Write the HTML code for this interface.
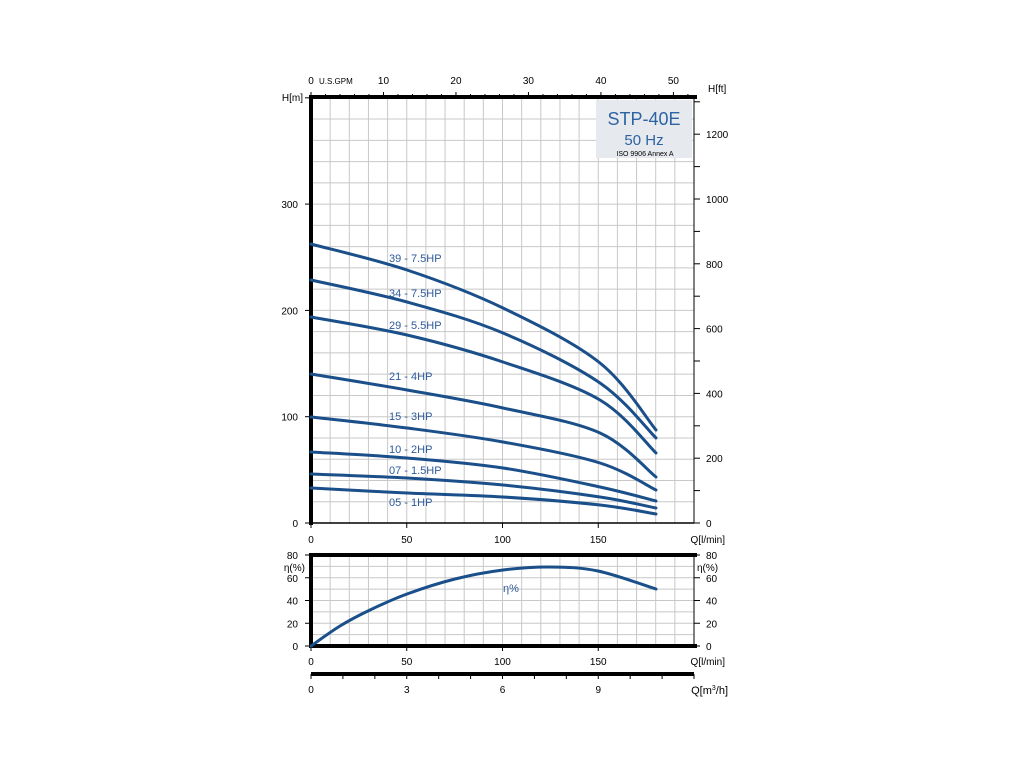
<!DOCTYPE html>
<html><head><meta charset="utf-8"><style>
html,body{margin:0;padding:0;background:#fff;}
svg{display:block;font-family:"Liberation Sans",sans-serif;}
</style></head><body>
<svg id="s" width="1024" height="768" viewBox="0 0 1024 768" xmlns="http://www.w3.org/2000/svg">
<g id="grid" stroke="#c8c8c8" stroke-width="1"></g>
<g id="ax" stroke="#000" fill="none"></g>
<g id="curves" fill="none" stroke="#1a4f8a" stroke-width="3" stroke-linecap="round"></g>
<g id="txt" font-size="10" fill="#000"></g>
<rect x="596" y="100" width="96" height="58" fill="#e6eaee"/>
<text x="644" y="125" font-size="18" fill="#2d63a3" text-anchor="middle">STP-40E</text>
<text x="644" y="145" font-size="15" fill="#2d63a3" text-anchor="middle">50 Hz</text>
<text x="645" y="156" font-size="7" fill="#000" text-anchor="middle">ISO 9906 Annex A</text>
<g font-size="11" fill="#2d5a9a">
<text x="389" y="262">39 - 7.5HP</text>
<text x="389" y="297">34 - 7.5HP</text>
<text x="389" y="329">29 - 5.5HP</text>
<text x="389" y="380">21 - 4HP</text>
<text x="389" y="420">15 - 3HP</text>
<text x="389" y="453">10 - 2HP</text>
<text x="389" y="474">07 - 1.5HP</text>
<text x="389" y="506">05 - 1HP</text>
<text x="503" y="592">η%</text>
</g>
</svg>
<script>
const NS="http://www.w3.org/2000/svg";
function el(p,t,a,txt){const e=document.createElementNS(NS,t);for(const k in a)e.setAttribute(k,a[k]);if(txt!==undefined)e.textContent=txt;document.getElementById(p).appendChild(e);return e;}
const X=q=>311+q*1.915;
const L=311,R=694;
for(let q=10;q<200;q+=10){el('grid','line',{x1:X(q),x2:X(q),y1:97,y2:523});el('grid','line',{x1:X(q),x2:X(q),y1:555,y2:646});}
for(let h=20;h<400;h+=20){const y=523-h*1.063;el('grid','line',{x1:L,x2:R,y1:y,y2:y});}
for(let e=10;e<80;e+=10){const y=646-e*1.1375;el('grid','line',{x1:L,x2:R,y1:y,y2:y});}
function ln(x1,y1,x2,y2,w){el('ax','line',{x1,y1,x2,y2,'stroke-width':w});}
function tx(x,y,s,anchor,fs){el('txt','text',{x,y,'text-anchor':anchor||'middle','font-size':fs||10},s);}
ln(311,97,697,97,4);ln(311,95,311,525,4);ln(694,97,694,523,1);ln(311,523,694,523,1.5);
ln(311,555,697,555,4);ln(311,646,697,646,4);ln(311,553,311,648,4);ln(694,555,694,646,1);
ln(311,674,694,674,4);
for(let h=0;h<=400;h+=100){const y=523-h*1.063;ln(305,y,311,y,1);if(h<400&&h>0)tx(298,y+4,h,'end');}
tx(298,527,'0','end');tx(303,101,'H[m]','end');
for(let f=0;f<=1300;f+=100){const y=523-f*0.3048*1.063;if(y<97)continue;ln(694,y,700,y,1);if(f%200==0)tx(706,y+4,f,'start');}
tx(708,92,'H[ft]','start');
for(let g=0;g<=52;g+=2){const x=311+g*3.785*1.915;if(x>694)break;ln(x,97,x,g%10==0?92:94,1);}
for(let g=0;g<=50;g+=10){tx(311+g*3.785*1.915,84,g);}
tx(319,84,'U.S.GPM','start',8);
for(let q=0;q<=150;q+=50){ln(X(q),523,X(q),528,1);tx(X(q),543,q);ln(X(q),646,X(q),651,1);tx(X(q),665,q);}
tx(725,543,'Q[l/min]','end');tx(725,665,'Q[l/min]','end');
for(let e=0;e<=80;e+=20){const y=646-e*1.1375;ln(305,y,311,y,1);ln(694,y,700,y,1);tx(298,y+4,e,'end');tx(706,y+4,e,'start');}
tx(305,571,'η(%)','end');tx(697,571,'η(%)','start');
for(let m=0;m<=12;m++){const x=311+m*16.667*1.915;ln(x,674,x,679,1);if(m%3==0&&m<12)tx(x,693,m);}
const t=el('txt','text',{x:728,y:694,'text-anchor':'end','font-size':11});t.innerHTML='Q[m<tspan font-size="7" dy="-4">3</tspan><tspan dy="4">/h]</tspan>';
function cr(pts){let d='M'+pts[0][0]+','+pts[0][1];for(let i=0;i<pts.length-1;i++){const p0=pts[Math.max(i-1,0)],p1=pts[i],p2=pts[i+1],p3=pts[Math.min(i+2,pts.length-1)];
const c1=[p1[0]+(p2[0]-p0[0])/6,p1[1]+(p2[1]-p0[1])/6],c2=[p2[0]-(p3[0]-p1[0])/6,p2[1]-(p3[1]-p1[1])/6];d+=' C'+c1+' '+c2+' '+p2;}return d;}
const xs=[311,407,503,600,656];
const ys=[[244,270,308,363,430],[280,302,333,383,438],[317,335,362,400,453],[374,390,408,433,477],[417,428,442,463,490],[452,458,468,487,501],[474,478,485,497,508],[488,493,497,505,514]];
ys.forEach(r=>el('curves','path',{d:cr(r.map((y,i)=>[xs[i],y]))}));
el('curves','path',{d:cr([[311,646],[340,626],[370,610],[407,594],[455,579],[503,570],[550,567],[598,571],[656,589]])});
</script>
</body></html>
